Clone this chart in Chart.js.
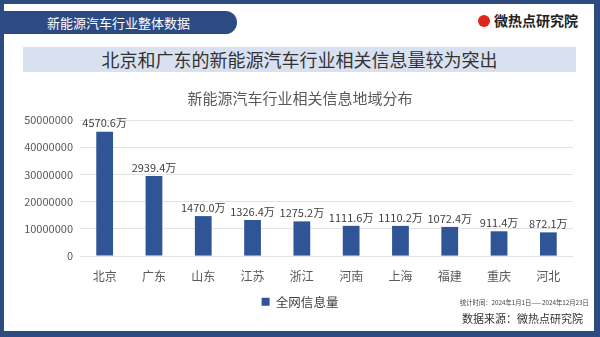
<!DOCTYPE html>
<html>
<head>
<meta charset="utf-8">
<script src="https://cdn.jsdelivr.net/npm/chart.js@4"></script>
<style>
  body { margin: 0; width: 600px; height: 337px; overflow: hidden; background: #2c4b7e; font-family: "Noto Sans CJK SC", sans-serif; }
  #page { position: absolute; left: 4px; top: 4px; width: 590px; height: 327px; background: #fff; }
  #banner { position: absolute; left: 0; top: 11px; width: 237px; height: 23px; background: #2c4b84; border-radius: 0 12px 12px 0; color: #fff; font-size: 13px; line-height: 23px; }
  #banner span { position: absolute; left: 47px; }
  #sub { position: absolute; left: 23px; top: 47px; width: 553px; height: 25px; background: #d9e1f0; color: #333; font-size: 18px; line-height: 25px; text-align: center; }
  #logo { position: absolute; left: 478px; top: 10px; font-size: 14px; font-weight: bold; color: #222; white-space: nowrap; }
  #logo b { display: inline-block; width: 12px; height: 12px; border-radius: 50%; background: #e0261b; margin-right: 4px; vertical-align: -1px; }
  #stat { position: absolute; left: 460px; top: 298px; font-size: 6.3px; color: #444; white-space: nowrap; }
  #src { position: absolute; left: 462px; top: 310px; font-size: 11px; color: #333; white-space: nowrap; }
  #wrap { position: absolute; left: 0; top: 85px; width: 600px; height: 233px; }
</style>
</head>
<body>
<div id="page"></div>
<div id="banner"><span>新能源汽车行业整体数据</span></div>
<div id="logo"><b></b>微热点研究院</div>
<div id="sub">北京和广东的新能源汽车行业相关信息量较为突出</div>
<div id="wrap"><canvas id="myChart"></canvas></div>
<div id="stat">统计时间：2024年1月1日——2024年12月23日</div>
<div id="src">数据来源：微热点研究院</div>
<script>
var regions = ['北京', '广东', '山东', '江苏', '浙江', '河南', '上海', '福建', '重庆', '河北'];
var volume = [45706000, 29394000, 14700000, 13264000, 12752000, 11116000, 11102000, 10724000, 9114000, 8721000];
var yTicks = [0, 10000000, 20000000, 30000000, 40000000, 50000000];

// value labels above each bar, e.g. 4570.6万
var barLabels = {
    id: 'barLabels',
    afterDatasetsDraw: function (chart) {
        var c = chart.ctx;
        var meta = chart.getDatasetMeta(0);
        c.save();
        c.font = '11px "Noto Sans CJK SC"';
        c.fillStyle = '#404040';
        c.textAlign = 'center';
        c.textBaseline = 'bottom';
        meta.data.forEach(function (bar, i) {
            c.fillText((volume[i] / 10000).toFixed(1) + '万', bar.x, bar.y - 3);
        });
        c.restore();
    }
};

var ctx = document.getElementById('myChart').getContext('2d');
var myChart = new Chart(ctx, {
    type: 'bar',
    data: {
        labels: regions,
        datasets: [{
            label: '全网信息量',
            data: volume,
            backgroundColor: '#2f5597',
            barPercentage: 0.34,
            categoryPercentage: 1
        }]
    },
    options: {
        responsive: true,
        maintainAspectRatio: false,
        animation: false,
        layout: { padding: 0 },
        plugins: {
            title: {
                display: true,
                text: '新能源汽车行业相关信息地域分布',
                color: '#595959',
                font: { size: 15, family: 'Noto Sans CJK SC', weight: 'normal' },
                padding: { top: 4, bottom: 13 }
            },
            legend: {
                position: 'bottom',
                labels: {
                    color: '#404040',
                    boxWidth: 8,
                    boxHeight: 8,
                    padding: 7,
                    font: { size: 12.5, family: 'Noto Sans CJK SC' }
                }
            },
            tooltip: { enabled: false }
        },
        scales: {
            x: {
                grid: { display: false },
                border: { display: false },
                ticks: { color: '#595959', font: { size: 12, family: 'Noto Sans CJK SC' }, padding: 5 }
            },
            y: {
                min: 0,
                max: 50000000,
                afterBuildTicks: function (s) { s.ticks = yTicks.map(function (v) { return { value: v }; }); },
                afterFit: function (s) { s.width = 80; },
                grid: { color: '#e3e3e3', drawTicks: false },
                border: { display: false },
                ticks: {
                    color: '#595959',
                    font: { size: 11, family: 'Noto Sans CJK SC' },
                    padding: 7,
                    callback: function (v) { return String(v); }
                }
            },
            // empty right-hand gutter so title and legend stay centred on the page
            gutter: {
                position: 'right',
                grid: { display: false },
                border: { display: false },
                ticks: { display: false },
                afterFit: function (s) { s.width = 27; }
            }
        }
    },
    plugins: [barLabels]
});
</script>
</body>
</html>
